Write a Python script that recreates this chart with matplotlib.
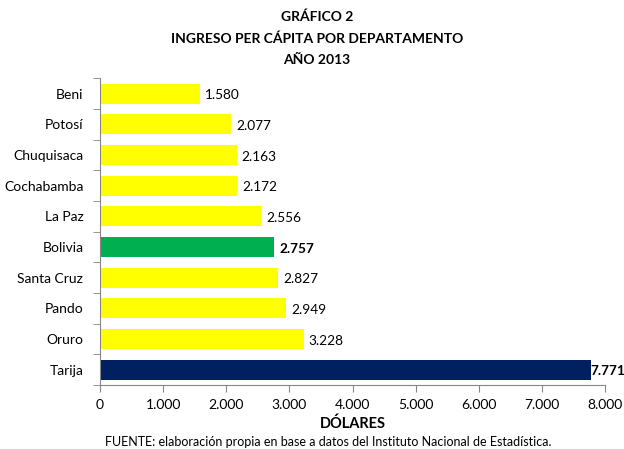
import matplotlib.pyplot as plt
import numpy as np

plt.rcParams['font.family'] = ['Lato', 'DejaVu Sans']

departamentos = ['Beni', 'Potosí', 'Chuquisaca', 'Cochabamba', 'La Paz',
                 'Bolivia', 'Santa Cruz', 'Pando', 'Oruro', 'Tarija']
ingreso = [1580, 2077, 2163, 2172, 2556, 2757, 2827, 2949, 3228, 7771]
etiquetas = ['1.580', '2.077', '2.163', '2.172', '2.556',
             '2.757', '2.827', '2.949', '3.228', '7.771']
x_ticks = [0, 1000, 2000, 3000, 4000, 5000, 6000, 7000, 8000]
x_ticklabels = ['0', '1.000', '2.000', '3.000', '4.000',
                '5.000', '6.000', '7.000', '8.000']

colores = []
for d in departamentos:
    if d == 'Bolivia':
        colores.append('#00B050')
    elif d == 'Tarija':
        colores.append('#002060')
    else:
        colores.append('#FFFF00')

fig = plt.figure(figsize=(6.24, 4.49), dpi=100)
ax = fig.add_axes([100 / 624, 1 - 385 / 449, 505 / 624, 306.7 / 449])

pos = np.arange(len(departamentos))
ax.barh(pos, ingreso, height=0.65, color=colores)
ax.set_ylim(len(departamentos) - 0.5, -0.5)
ax.set_xlim(0, 8000)

# etiquetas de valores
for i, (v, lab) in enumerate(zip(ingreso, etiquetas)):
    negrita = departamentos[i] in ('Bolivia', 'Tarija')
    gap = 0 if departamentos[i] == 'Tarija' else 80
    ax.text(v + gap, i + 0.05, lab, va='center', ha='left', fontsize=9.8,
            fontweight='bold' if negrita else 'normal', color='black')

ax.set_yticks(pos)
ax.set_yticklabels(departamentos, fontsize=10)
ax.tick_params(axis='y', which='major', length=0, pad=12)
ax.set_yticks(np.arange(-0.5, len(departamentos) + 0.5, 1), minor=True)
ax.tick_params(axis='y', which='minor', length=5, color='#868686', direction='out')

ax.set_xticks(x_ticks)
ax.set_xticklabels(x_ticklabels, fontsize=10)
ax.tick_params(axis='x', length=5, color='#868686', pad=5)

for s in ['top', 'right']:
    ax.spines[s].set_visible(False)
for s in ['left', 'bottom']:
    ax.spines[s].set_color('#868686')

ax.set_xlabel('DÓLARES', fontsize=10.5, fontweight='bold', labelpad=4)

fig.text(317 / 624, 1 - 17 / 449, 'GRÁFICO 2', ha='center', va='center',
         fontsize=10, fontweight='bold')
fig.text(317 / 624, 1 - 39 / 449, 'INGRESO PER CÁPITA POR DEPARTAMENTO',
         ha='center', va='center', fontsize=10, fontweight='bold')
fig.text(317 / 624, 1 - 60 / 449, 'AÑO 2013', ha='center', va='center',
         fontsize=10, fontweight='bold')
fig.text(328 / 624, 1 - 442 / 449,
         'FUENTE: elaboración propia en base a datos del Instituto Nacional de Estadística.',
         ha='center', va='center', fontsize=9)

fig.savefig('out.png', dpi=100)
